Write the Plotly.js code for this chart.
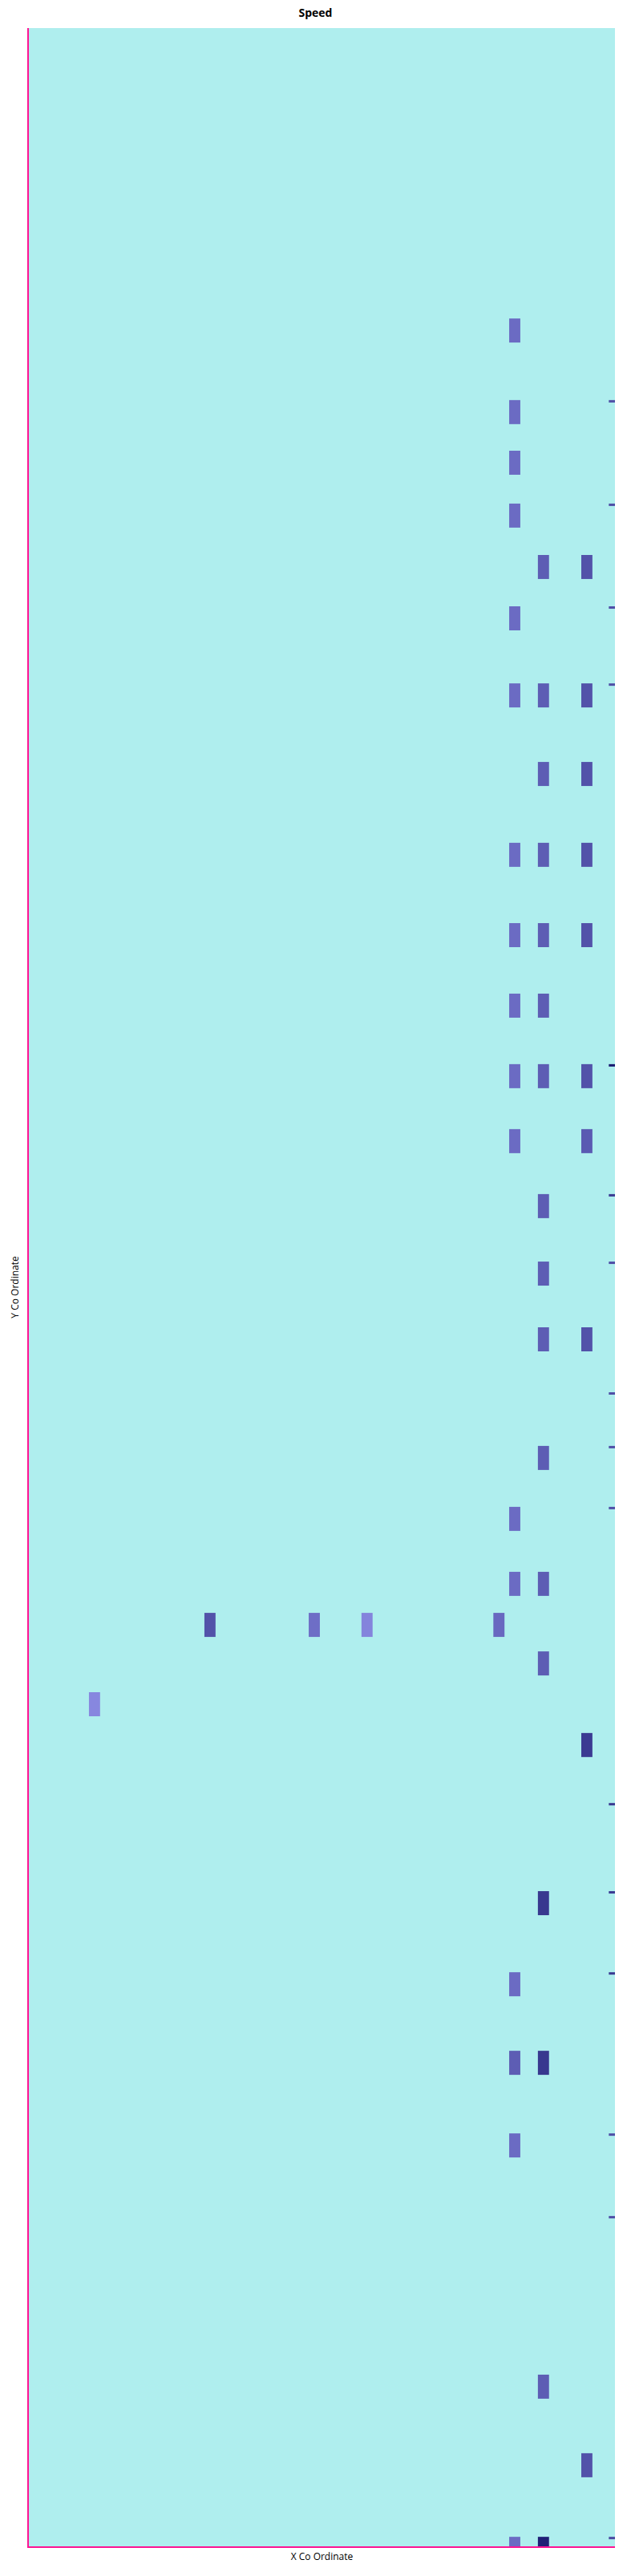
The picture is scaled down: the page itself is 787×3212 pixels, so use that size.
<!DOCTYPE html>
<html>
<head>
<meta charset="utf-8">
<script src="https://cdn.plot.ly/plotly-3.0.1.min.js"></script>
<style>html,body{margin:0;padding:0;background:#fff;}#chart{width:787px;height:3212px;}</style>
</head>
<body>
<div id="chart"></div>
<script>
// X positions of the occupied columns (X Co Ordinate)
var colX = {H: 11.2, E: 30.9, F: 48.7, G: 57.7, D: 80.2, A: 82.9, B: 87.8, C: 95.2, R: 99.9};

// Cells: X Co Ordinate, Y Co Ordinate, Speed
var cellX = [
  colX.A,
  colX.A,
  colX.A,
  colX.A,
  colX.B, colX.C,
  colX.A,
  colX.A, colX.B, colX.C,
  colX.B, colX.C,
  colX.A, colX.B, colX.C,
  colX.A, colX.B, colX.C,
  colX.A, colX.B,
  colX.A, colX.B, colX.C,
  colX.A, colX.C,
  colX.B,
  colX.B,
  colX.B, colX.C,
  colX.B,
  colX.A,
  colX.A, colX.B,
  colX.E, colX.F, colX.G, colX.D,
  colX.B,
  colX.H,
  colX.C,
  colX.B,
  colX.A,
  colX.A, colX.B,
  colX.A,
  colX.B,
  colX.C,
  colX.A, colX.B
];
var cellY = [
  879.9,
  847.5,
  827.4,
  806.4,
  786.0, 786.0,
  765.6,
  735.0, 735.0, 735.0,
  703.8, 703.8,
  671.7, 671.7, 671.7,
  639.8, 639.8, 639.8,
  611.8, 611.8,
  583.8, 583.8, 583.8,
  558.0, 558.0,
  532.2,
  505.4,
  479.3, 479.3,
  432.2,
  408.0,
  382.2, 382.2,
  365.9, 365.9, 365.9, 365.9,
  350.6,
  334.4,
  318.2,
  255.4,
  223.2,
  192.0, 192.0,
  159.2,
  63.4,
  32.2,
  -1.0, -1.0
];
var cellSpeed = [
  31,
  31,
  31,
  31,
  36, 40,
  31,
  31, 36, 40,
  36, 40,
  31, 36, 40,
  31, 36, 40,
  31, 36,
  31, 36, 40,
  31, 37,
  36,
  36,
  36, 40,
  36,
  31,
  31, 36,
  40, 30, 22, 32,
  36,
  21,
  48,
  49,
  31,
  36, 49,
  31,
  36,
  40,
  31, 58
];

// Marks at the right-hand edge: Y Co Ordinate, Speed
var edgeY = [847.5, 806.4, 765.6, 735.0, 583.8, 532.2, 505.4, 453.5, 432.2, 408.0, 290.4, 255.4, 223.2, 159.2, 126.4, -1.0];
var edgeSpeed = [41, 41, 41, 41, 60, 48, 41, 41, 41, 41, 48, 48, 48, 41, 41, 43];

var speedMin = 20, speedMax = 60;
var scale = [[0, '#8a8ae2'], [1, '#191970']];

var cellH = 9.55;   // row height in Y units
var cellW = 1.9;    // column width in X units
var edgeH = 0.96;

var cellBase = cellY.map(function (y) { return y - cellH / 2; });
var cellHeights = cellY.map(function () { return cellH; });
var edgeX = edgeY.map(function () { return colX.R; });
var edgeBase = edgeY.map(function (y) { return y + cellH / 2 - edgeH; });
var edgeHeights = edgeY.map(function () { return edgeH; });

var traces = [
  {
    type: 'bar', x: cellX, y: cellHeights, base: cellBase, width: cellW,
    marker: {color: cellSpeed, colorscale: scale, cmin: speedMin, cmax: speedMax, showscale: false, line: {width: 0}},
    customdata: cellSpeed, hovertemplate: 'X: %{x}<br>Speed: %{customdata}<extra></extra>'
  },
  {
    type: 'bar', x: edgeX, y: edgeHeights, base: edgeBase, width: cellW,
    marker: {color: edgeSpeed, colorscale: scale, cmin: speedMin, cmax: speedMax, showscale: false, line: {width: 0}},
    customdata: edgeSpeed, hovertemplate: 'X: %{x}<br>Speed: %{customdata}<extra></extra>'
  }
];

var layout = {
  width: 787, height: 3212,
  margin: {l: 36, r: 20, t: 35, b: 37, pad: 0},
  paper_bgcolor: '#ffffff',
  plot_bgcolor: '#afeeee',
  barmode: 'overlay',
  showlegend: false,
  font: {family: '"Open Sans", verdana, arial, sans-serif', color: '#000'},
  title: {text: '<b>Speed</b>', x: 0.5, xanchor: 'center', y: 0.995, yanchor: 'middle', font: {size: 14, color: '#000'}},
  xaxis: {
    range: [0, 100], showgrid: false, zeroline: false, showticklabels: false, ticks: '',
    showline: true, linecolor: '#ff1493', linewidth: 2,
    title: {text: 'X Co Ordinate', font: {size: 12, color: '#000'}, standoff: 8}
  },
  yaxis: {
    range: [0, 1000], showgrid: false, zeroline: false, showticklabels: false, ticks: '',
    showline: true, linecolor: '#ff1493', linewidth: 2,
    title: {text: 'Y Co Ordinate', font: {size: 12, color: '#000'}, standoff: 8}
  }
};

Plotly.newPlot('chart', traces, layout, {displayModeBar: false, staticPlot: true});
</script>
</body>
</html>
